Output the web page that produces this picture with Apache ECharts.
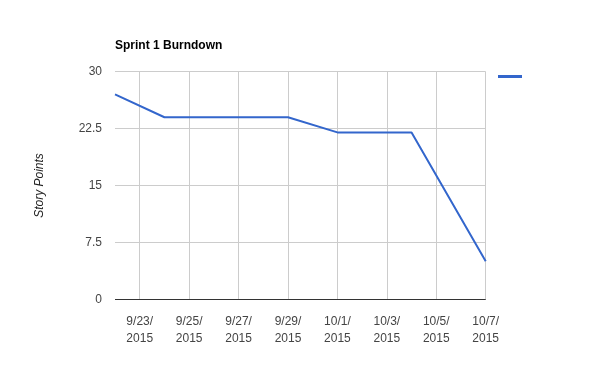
<!DOCTYPE html>
<html>
<head>
<meta charset="utf-8">
<script src="https://cdn.jsdelivr.net/npm/echarts@6/dist/echarts.min.js"></script>
<style>html,body{margin:0;padding:0;background:#fff}#c{width:600px;height:371px}</style>
</head>
<body>
<div id="c"></div>
<script>
var categories = ['9/22/2015','9/23/2015','9/24/2015','9/25/2015','9/26/2015','9/27/2015','9/28/2015','9/29/2015','9/30/2015','10/1/2015','10/2/2015','10/3/2015','10/4/2015','10/5/2015','10/6/2015','10/7/2015'];
var pointDates = ['9/22/2015','9/24/2015','9/29/2015','10/1/2015','10/4/2015','10/7/2015'];
var pointValues = [27, 24, 24, 22, 22, 5];
var yTicks = [0, 7.5, 15, 22.5, 30];

var chart = echarts.init(document.getElementById('c'), null, {renderer: 'canvas'});
var font = 'Arial, "Liberation Sans", sans-serif';
var showIdx = function (i) { return i % 2 === 1; };
chart.setOption({
  animation: false,
  title: {
    text: 'Sprint 1 Burndown', left: 110, top: 35,
    textStyle: {fontFamily: font, fontSize: 12, fontWeight: 'bold', color: '#000'}
  },
  legend: {
    data: [{name: ' ', icon: 'rect'}], left: 493, top: 70, itemWidth: 24, itemHeight: 3,
    textStyle: {fontSize: 1, color: '#fff'}
  },
  grid: {left: 115, right: 114.3, top: 71.7, bottom: 71.7, containLabel: false},
  xAxis: {
    type: 'category', data: categories, boundaryGap: false,
    axisLine: {show: false},
    axisTick: {show: false},
    axisLabel: {
      interval: function (i) { return showIdx(i); },
      fontFamily: font, fontSize: 12, color: '#444', lineHeight: 17, margin: 14,
      formatter: function (v) { var p = v.split('/'); return p[0] + '/' + p[1] + '/\n' + p[2]; }
    },
    splitLine: {show: true, interval: function (i) { return showIdx(i); }, lineStyle: {color: '#ccc', width: 1}}
  },
  yAxis: {
    type: 'value', min: 0, max: 30, interval: 7.5,
    name: 'Story Points', nameLocation: 'middle', nameGap: 69, nameRotate: 90,
    nameTextStyle: {fontFamily: font, fontSize: 12, fontStyle: 'italic', color: '#222'},
    axisLine: {show: false}, axisTick: {show: false},
    axisLabel: {fontFamily: font, fontSize: 12, color: '#444', margin: 13,
      formatter: function (v) { return yTicks.indexOf(v) >= 0 ? String(v) : ''; }},
    splitLine: {lineStyle: {color: '#ccc', width: 1}}
  },
  series: [{
    name: ' ', type: 'line',
    data: pointDates.map(function (d, i) { return [d, pointValues[i]]; }),
    showSymbol: false, symbol: 'none',
    lineStyle: {color: '#3366cc', width: 2}, itemStyle: {color: '#3366cc'},
    markLine: {
      silent: true, symbol: 'none', label: {show: false},
      lineStyle: {color: '#333', width: 1, type: 'solid'},
      data: [{yAxis: 0}]
    }
  }]
});
</script>
</body>
</html>
